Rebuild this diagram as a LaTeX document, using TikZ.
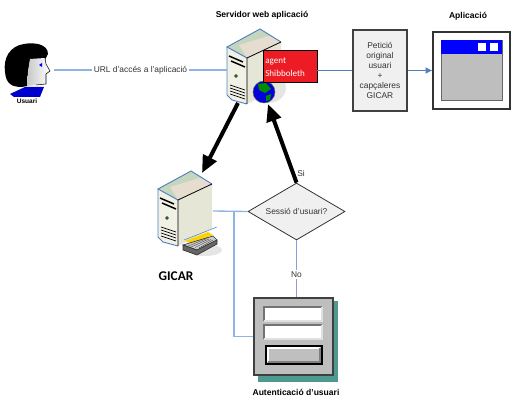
\documentclass[tikz,border=0pt]{standalone}
\usepackage{fontspec}
\setmainfont{Liberation Sans}
\newfontfamily\carlito{Carlito}
\usetikzlibrary{shapes.geometric,arrows.meta}

\definecolor{linkblue}{HTML}{8DB4E2}
\definecolor{darkblue}{HTML}{4F81BD}
\definecolor{nolink}{HTML}{8E9BD6}
\definecolor{boxgrey}{HTML}{F0F0F0}
\definecolor{panelgrey}{HTML}{BEBEBE}
\definecolor{agentred}{HTML}{ED1C24}
\definecolor{shadowgreen}{HTML}{4F9A90}
\definecolor{srvfront}{HTML}{F2F1E6}
\definecolor{srvside}{HTML}{E6E6D6}
\definecolor{srvtop}{HTML}{C5D6BF}
\definecolor{srvband}{HTML}{E6DCCF}

\tikzset{
	txt/.style={font=\fontsize{6.3}{7.5}\selectfont,text=black!80,inner sep=1pt},
	title/.style={font=\bfseries\fontsize{6.4}{8}\selectfont,inner sep=0pt},
	link/.style={linkblue,line width=1pt},
	bigarrow/.style={line width=3pt,-{Triangle[length=13pt,width=11pt]}}
}

% server icon, #1,#2 is its left corner
\newcommand{\servericon}[2]{
	\begin{scope}[shift={(#1,#2)}]
		\fill[srvfront] (0,0) -- (20,11) -- (20,57) -- (5,53) -- (0,48) -- cycle;
		\fill[srvside] (20,11) -- (54,-5) -- (54,40) -- (20,57) -- cycle;
		\fill[srvtop] (0,0) -- (33,-18) -- (54,-5) -- (20,11) -- cycle;
		\fill[srvband] (12,-2) -- (43,-11.5) -- (54,-5) -- (20,11) -- cycle;
		\draw[darkblue,line width=.7pt] (20,11) -- (0,0) -- (33,-18) -- (54,-5);
		\draw[darkblue,line width=.7pt] (0,0) -- (0,48) -- (5,53) -- (20,57);
		\draw[black,line width=.6pt] (54,-5) -- (20,11) -- (20,57);
		\draw[black,line width=1.1pt] (2,9) -- (16,15) (4,14) -- (18,20);
		\filldraw[fill=green!50!black,draw=black!70] (9,29) circle (1.6);
		\foreach \i in {0,1,2,3}
			\draw[black,line width=.5pt] (3,38+\i*3) -- (18,43+\i*3);
	\end{scope}
}

\begin{document}
\begin{tikzpicture}[x=.75pt,y=-.75pt]
	\useasboundingbox (0,0) rectangle (522,417);

	% user
	\fill[blue!80!black] (10,94) -- (25,87) -- (44,87) -- (40,97) -- (14,97) -- cycle;
	\fill[black] (22,87) .. controls (12,87) and (6,84) .. (5,72) .. controls (3,58) and (10,46) .. (24,44) .. controls (34,42) and (48,44) .. (48,54) -- (45,60) -- (30,60) -- (28,72) -- (27,86) -- cycle;
	\shade[left color=black!22,right color=white] (30,59) -- (45,58) -- (46,64) -- (50,71) -- (46,74) -- (46,84) -- (36,85) -- (27,86) -- (28,72) -- cycle;
	\draw[black,line width=.4pt] (45,58) -- (46,64) -- (50,71) -- (46,74) -- (46,84) -- (36,85);
	\fill[blue] (39,65) -- (42,63) -- (42,67) -- cycle;
	\node[inner sep=0pt,font=\bfseries\fontsize{4.9}{6}\selectfont] (usuari) at (27,101.5) {Usuari};
	\coordinate (usr) at (54,70);

	\fill[black!10] (268,88) ellipse (18 and 15);
	\servericon{227}{47}
	\coordinate (srvW) at (227,70);
	\coordinate (srvB) at (238,103);
	\coordinate (srvG) at (268,104);

	% globe
	\filldraw[fill=blue!85!black,draw=black!60] (264,92) circle (11);
	\fill[green!55!black] (258,84) -- (266,83) -- (271,89) -- (265,93) -- (259,90) -- cycle (266,96) -- (271,94) -- (270,100) -- (266,101) -- cycle;

	\node[draw=black,fill=agentred,line width=.7pt,minimum width=40.5pt,minimum height=24pt,inner sep=1pt] (agent) at (290,66) {};
	\node[inner sep=0pt,text=white,align=left,anchor=west,font=\carlito\fontsize{6.8}{9.6}\selectfont] (agenttxt) at (265,67) {agent\\Shibboleth};
	\node[title] (srvtitle) at (262,15) {Servidor web aplicació};

	\node[draw=black!75,fill=boxgrey,line width=.8pt,minimum width=40.5pt,minimum height=60.75pt,align=center,txt,inner sep=0pt] (pet) at (380,70.5) {Petició\\original\\usuari\\+\\capçaleres\\GICAR};

	% application window
	\node[draw=black!80,fill=white,line width=.9pt,minimum width=57.75pt,minimum height=57.75pt] (app) at (471.5,70.5) {};
	\filldraw[fill=panelgrey,draw=black!60] (441,40) rectangle (502,100);
	\fill[blue] (441,40) rectangle (502,54);
	\foreach \x in {478,490}
		\fill[white] (\x,43) rectangle (\x+8,51);
	\node[title] (apptitle) at (468,16) {Aplicació};

	\draw[link] (usr) -- (srvW) node[midway,fill=white,txt] (url) {URL d'accés a l'aplicació};
	\draw[darkblue,line width=.7pt] (agent.east |- pet.west) -- (pet.west);
	\draw[darkblue,line width=.7pt,-{Latex[length=5pt,width=5pt]}] (pet) -- (app);

	\fill[black!10] (205,250) ellipse (17 and 6);
	\servericon{158}{189}
	\coordinate (gicT) at (202,173);
	\coordinate (gicE) at (213,211);

	% printer tray
	\fill[yellow!70!orange] (185,241) -- (208,232) -- (213,235) -- (192,244) -- cycle;
	\draw[darkblue] (184,240) -- (217,227);
	\filldraw[fill=black!20,draw=black!80,line width=.5pt] (183,245) -- (213,236) -- (217,240) -- (197,250) -- cycle;
	\filldraw[fill=black!60,draw=black!80,line width=.5pt] (183,245) -- (197,250) -- (217,240) -- (217,244) -- (197,255) -- (183,250) -- cycle;
	\foreach \i in {0,1,2,3}
		\draw[black!70,line width=.3pt] (187+\i*4,246.5+\i*.5) -- (207+\i*2,238.5+\i*.5);
	\node[inner sep=0pt,font=\carlito\bfseries\fontsize{10}{12}\selectfont] (gicar) at (176,276) {GICAR};

	\node[diamond,draw=black!80,fill=boxgrey,aspect=1.7,line width=.6pt,minimum width=72.75pt,minimum height=42.75pt,txt,inner sep=0pt] (dec) at (296.5,211.5) {Sessió d'usuari?};

	% login form
	\fill[shadowgreen] (258,301) rectangle (338,382);
	\node[draw=black!75,fill=panelgrey,line width=.9pt,minimum width=59.25pt,minimum height=57.75pt] (form) at (293.5,336.5) {};
	\foreach \y in {307,325} {
		\fill[white] (264,\y) rectangle (322,\y+14);
		\draw[black!55,line width=1.4pt] (264,\y+14) -- (264,\y) -- (322,\y);
		\draw[black!12,line width=1.4pt] (264,\y+14) -- (322,\y+14) -- (322,\y);
	}
	\filldraw[fill=black!25,draw=black,line width=.8pt] (266,346) rectangle (322,364);
	\draw[white,line width=.8pt] (268,362) -- (268,348) -- (320,348);
	\draw[black!50,line width=.8pt] (268,362) -- (320,362) -- (320,348);
	\node[title] (formtitle) at (296,392) {Autenticació d'usuari};

	\draw[bigarrow] (srvB) -- (gicT);
	\draw[bigarrow] (dec.north) -- (srvG);
	\node[txt] (si) at (301,173) {Si};

	\draw[link] (gicE) -- (dec.west);
	\coordinate (jn) at (234,211);
	\draw[link] (jn) |- (form.west);
	\draw[nolink,line width=1pt] (dec.south) -- (dec.south |- form.north) node[pos=.6,fill=white,txt] (no) {No};
\end{tikzpicture}
\end{document}
